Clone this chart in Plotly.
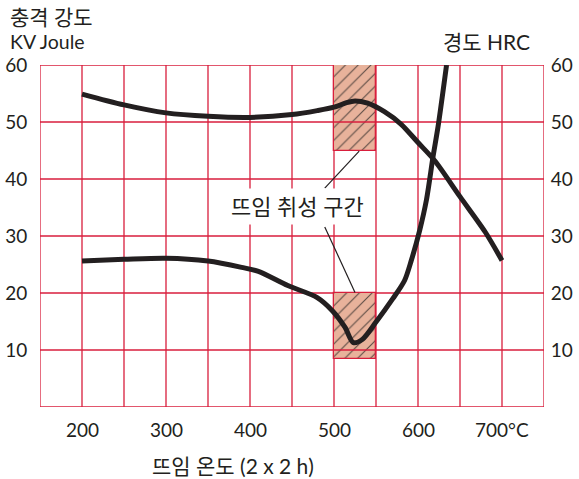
import plotly.graph_objects as go

# ---- data ----
temp_hardness = [200, 250, 300, 350, 400, 450, 480, 500, 515, 525, 540, 560, 580, 600, 620, 650, 680, 700]
hardness_hrc = [54.9, 53.0, 51.6, 51.0, 50.8, 51.3, 52.0, 52.6, 53.4, 53.7, 53.3, 51.8, 49.6, 46.4, 43.2, 36.9, 30.7, 25.7]

temp_impact = [200, 250, 300, 350, 390, 410, 445, 480, 498, 513, 523, 534, 550, 570, 584, 592, 602, 610, 618, 624, 634]
impact_kv = [25.6, 25.9, 26.1, 25.6, 24.5, 23.8, 21.3, 19.2, 16.9, 14.0, 11.3, 11.9, 14.9, 19.0, 22.2, 25.7, 31.0, 36.3, 44.0, 49.3, 60.0]

zone_center = [525, 525]
zone_width = [50, 50]
zone_base = [45, 8.4]
zone_height = [15, 11.6]

x_grid_vals = [150, 200, 250, 300, 350, 400, 450, 500, 550, 600, 650, 700, 750]
x_tick_vals = [200, 300, 400, 500, 600, 700]
x_tick_text = ["200", "300", "400", "500", "600", "700°C"]
y_tick_vals = [10, 20, 30, 40, 50, 60]
y_tick_text = ["10", "20", "30", "40", "50", "60"]
y_grid_vals = [0, 10, 20, 30, 40, 50, 60]

label_zone = "뜨임 취성 구간"
label_left_1 = "충격 강도"
label_left_2 = "KV Joule"
label_right = "경도 HRC"
label_x = "뜨임 온도 (2 x 2 h)"

RED = "#D81E3C"
INK = "#231F20"
CLEAR = "rgba(0,0,0,0)"
FONT = "Lato, Noto Sans CJK KR, sans-serif"

fig = go.Figure()

fig.add_trace(go.Bar(
    x=zone_center, y=zone_height, base=zone_base, width=zone_width,
    marker=dict(color="#E8B29B", line=dict(color=RED, width=1.3),
                pattern=dict(shape="/", fgcolor="#5a4a44", bgcolor="#E8B29B",
                             size=9, solidity=0.12)),
    hoverinfo="skip", showlegend=False))

fig.add_trace(go.Scatter(
    x=temp_impact, y=impact_kv, mode="lines",
    line=dict(color=INK, width=5, shape="spline", smoothing=0.8),
    showlegend=False, cliponaxis=True))

fig.add_trace(go.Scatter(
    x=temp_hardness, y=hardness_hrc, mode="lines", yaxis="y2",
    line=dict(color=INK, width=5, shape="spline", smoothing=0.8),
    showlegend=False))

shapes = []
for gx in x_grid_vals:
    shapes.append(dict(type="line", xref="x", yref="y", x0=gx, x1=gx, y0=0, y1=60,
                       line=dict(color=RED, width=1.3), layer="below"))
for gy in y_grid_vals:
    shapes.append(dict(type="line", xref="x", yref="y", x0=150, x1=750, y0=gy, y1=gy,
                       line=dict(color=RED, width=1.3), layer="below"))
shapes += [
    dict(type="line", xref="x", yref="y", x0=500, x1=550, y0=50, y1=50,
         line=dict(color=RED, width=1.3), layer="above"),
    dict(type="line", xref="x", yref="y", x0=500, x1=550, y0=10, y1=10,
         line=dict(color=RED, width=1.3), layer="above"),
    dict(type="line", xref="x", yref="y", x0=489, y0=38.4, x1=530, y1=44.9,
         line=dict(color=INK, width=1.2), layer="above"),
    dict(type="line", xref="x", yref="y", x0=489, y0=31.6, x1=525, y1=20.1,
         line=dict(color=INK, width=1.2), layer="above"),
]

axis_font = dict(size=19, color=INK, family=FONT)

annotations = [
    dict(text=t, x=v, y=-0.067, xref="x", yref="paper", xanchor="center",
         yanchor="middle", showarrow=False, font=axis_font)
    for v, t in zip(x_tick_vals, x_tick_text)
]
annotations += [
    dict(text=label_zone, x=456.4, y=35.2, xref="x", yref="y", showarrow=False,
         font=dict(size=22, color=INK, family=FONT), bgcolor="white", borderpad=4),
    dict(text=label_left_1, x=-0.0635, y=1.143, xref="paper", yref="paper",
         xanchor="left", yanchor="middle", showarrow=False,
         font=dict(size=21, color=INK, family=FONT)),
    dict(text=label_left_2, x=-0.0635, y=1.068, xref="paper", yref="paper",
         xanchor="left", yanchor="middle", showarrow=False,
         font=dict(size=19.5, color=INK, family=FONT)),
    dict(text=label_right, x=0.976, y=1.068, xref="paper", yref="paper",
         xanchor="right", yanchor="middle", showarrow=False,
         font=dict(size=21, color=INK, family=FONT)),
    dict(text=label_x, x=0.383, y=-0.1696, xref="paper", yref="paper",
         xanchor="center", yanchor="middle", showarrow=False,
         font=dict(size=21, color=INK, family=FONT)),
]

fig.update_layout(
    template="none",
    width=579, height=479,
    margin=dict(l=40, r=35, t=65, b=72, autoexpand=False),
    paper_bgcolor="white", plot_bgcolor="white",
    shapes=shapes, annotations=annotations,
    xaxis=dict(range=[150, 750], showticklabels=False, ticks="",
               showgrid=False, zeroline=False, automargin=False, showline=False),
    yaxis=dict(range=[0, 60], tickvals=y_tick_vals, ticktext=y_tick_text,
               showgrid=False, zeroline=False, automargin=False,
               showline=False, ticks="outside", ticklen=8, tickcolor=CLEAR,
               tickfont=axis_font),
    yaxis2=dict(range=[0, 60], tickvals=y_tick_vals, ticktext=y_tick_text,
                overlaying="y", side="right", showgrid=False, zeroline=False,
                automargin=False, showline=False, ticks="outside", ticklen=2,
                tickcolor=CLEAR, tickfont=axis_font),
    bargap=0,
)

fig.write_html("out.html", config={"displayModeBar": False},
               post_script="document.body.style.margin='0';document.body.style.padding='0';")
